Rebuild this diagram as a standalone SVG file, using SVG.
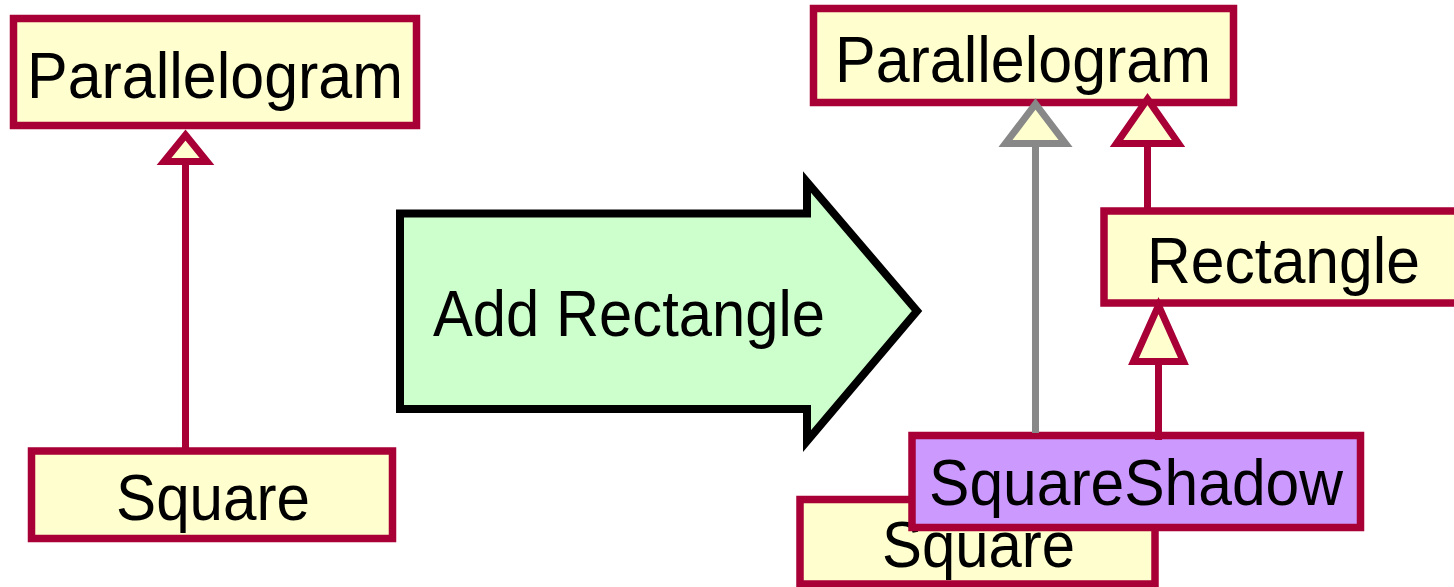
<svg xmlns="http://www.w3.org/2000/svg" width="1454" height="587" viewBox="0 0 1454 587">
  <style>
    .cls { fill: #FEFECE; stroke: #A80036; stroke-width: 7.5; }
    .shadow { fill: #CC99FF; stroke: #A80036; stroke-width: 7.5; }
    .lbl { font-family: "Liberation Sans", Arial, sans-serif; font-size: 65px; fill: #000000; }
    .edge { fill: none; stroke: #A80036; stroke-width: 7; }
    .edge-gray { fill: none; stroke: #888888; stroke-width: 7; }
    .head { fill: #FEFECE; stroke: #A80036; stroke-width: 7; stroke-linejoin: miter; }
    .head-gray { fill: #FEFECE; stroke: #888888; stroke-width: 7; stroke-linejoin: miter; }
  </style>
  <rect width="1454" height="587" fill="#FFFFFF"/>

  <!-- before: Square extends Parallelogram -->
  <g id="left-parallelogram">
    <rect class="cls" x="13.5" y="18.5" width="403" height="107"/>
    <text class="lbl" x="27" y="98" textLength="376" lengthAdjust="spacingAndGlyphs">Parallelogram</text>
  </g>
  <g id="left-square">
    <rect class="cls" x="31.5" y="451" width="361" height="87.5"/>
    <text class="lbl" x="116" y="520" textLength="194" lengthAdjust="spacingAndGlyphs">Square</text>
  </g>

  <!-- transition arrow -->
  <g id="transition">
    <polygon points="400,213.5 807,213.5 807,182 917,311 807,441 807,409 400,409" fill="#CCFFCC" stroke="#000000" stroke-width="8" stroke-linejoin="miter"/>
    <text class="lbl" x="433" y="336" textLength="392" lengthAdjust="spacingAndGlyphs">Add Rectangle</text>
  </g>

  <!-- after: Rectangle inserted between Parallelogram and Square -->
  <g id="right-parallelogram">
    <rect class="cls" x="813.5" y="8.5" width="420" height="94"/>
    <text class="lbl" x="835" y="82" textLength="376" lengthAdjust="spacingAndGlyphs">Parallelogram</text>
  </g>
  <g id="rectangle">
    <rect class="cls" x="1104" y="211" width="400" height="92"/>
    <text class="lbl" x="1147" y="283" textLength="273" lengthAdjust="spacingAndGlyphs">Rectangle</text>
  </g>
  <g id="right-square">
    <rect class="cls" x="800" y="499.5" width="355" height="84.5"/>
    <text class="lbl" x="882" y="567" textLength="193" lengthAdjust="spacingAndGlyphs">Square</text>
  </g>
  <g id="square-shadow">
    <rect class="shadow" x="912" y="435.5" width="448.5" height="92"/>
    <text class="lbl" x="929" y="505" textLength="414" lengthAdjust="spacingAndGlyphs">SquareShadow</text>
  </g>

  <g id="connectors">
    <!-- Square to Parallelogram (before) -->
    <line class="edge" x1="185.5" y1="451" x2="185.5" y2="161.5"/>
    <polygon class="head" points="185.5,135 207,161.5 164,161.5"/>
    <!-- old inheritance, greyed out -->
    <line class="edge-gray" x1="1035.5" y1="433" x2="1035.5" y2="143.5"/>
    <polygon class="head-gray" points="1035.5,104 1065.5,143.5 1005.5,143.5"/>
    <!-- Rectangle to Parallelogram -->
    <line class="edge" x1="1147.5" y1="211" x2="1147.5" y2="143.5"/>
    <polygon class="head" points="1147.5,99 1178.5,143.5 1116.5,143.5"/>
    <!-- SquareShadow to Rectangle -->
    <line class="edge" x1="1158.5" y1="440" x2="1158.5" y2="361.5"/>
    <polygon class="head" points="1158.5,305.5 1183.5,361.5 1133.5,361.5"/>
  </g>
</svg>
